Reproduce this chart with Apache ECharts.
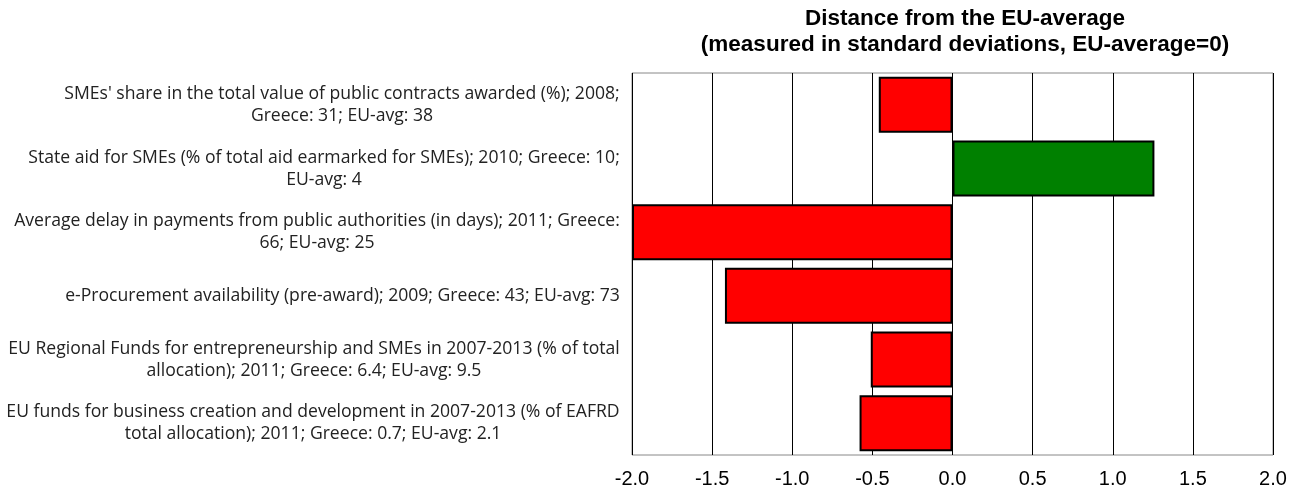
<!DOCTYPE html>
<html>
<head>
<meta charset="utf-8">
<script src="https://cdn.jsdelivr.net/npm/echarts@6/dist/echarts.min.js"></script>
<style>
  html, body { margin: 0; padding: 0; background: #fff; }
  #chart { width: 1299px; height: 492px; }
</style>
</head>
<body>
<div id="chart"></div>
<script>
const categories = [
  "SMEs' share in the total value of public contracts awarded (%); 2008;\nGreece: 31; EU-avg: 38",
  'State aid for SMEs (% of total aid earmarked for SMEs); 2010; Greece: 10;\nEU-avg: 4',
  'Average delay in payments from public authorities (in days); 2011; Greece:\n66; EU-avg: 25',
  'e-Procurement availability (pre-award); 2009; Greece: 43; EU-avg: 73',
  'EU Regional Funds for entrepreneurship and SMEs in 2007-2013 (% of total\nallocation); 2011; Greece: 6.4; EU-avg: 9.5',
  'EU funds for business creation and development in 2007-2013 (% of EAFRD\ntotal allocation); 2011; Greece: 0.7; EU-avg: 2.1'
]
const distances = [-0.46, 1.26, -2.0, -1.42, -0.51, -0.58]
const titleLines = ['Distance from the EU-average', '(measured in standard deviations, EU-average=0)']

const labelFamily = 'Open Sans'
const labelSize = 17.6
// width of the first line, so the second line can be centred under it
const ctx = document.createElement('canvas').getContext('2d')
ctx.font = labelSize + 'px "' + labelFamily + '"'
const firstLineWidth = s => Math.ceil(ctx.measureText(s.split('\n')[0]).width)
const richKey = s => 'w' + firstLineWidth(s)

const richStyles = {}
categories.forEach(c => {
  richStyles[richKey(c)] = {
    width: firstLineWidth(c),
    align: 'center',
    fontFamily: labelFamily,
    fontSize: labelSize,
    lineHeight: 22,
    color: '#222'
  }
})

const chart = echarts.init(document.getElementById('chart'))
chart.setOption({
  animation: false,
  title: {
    text: titleLines.join('\n'),
    left: 960,
    top: 1,
    textAlign: 'center',
    textStyle: { fontFamily: 'Liberation Sans', fontWeight: 'bold', fontSize: 22.5, lineHeight: 26, color: '#000' }
  },
  grid: { left: 632, right: 26, top: 73, bottom: 37, show: true, borderColor: '#888', borderWidth: 1 },
  xAxis: {
    type: 'value',
    min: -2,
    max: 2,
    interval: 0.5,
    axisLine: { show: false },
    axisTick: { show: false },
    splitLine: { lineStyle: { color: '#000', width: 1 } },
    axisLabel: {
      color: '#000',
      fontFamily: 'Liberation Sans',
      fontSize: 20,
      margin: 14,
      formatter: v => v.toFixed(1)
    }
  },
  yAxis: {
    type: 'category',
    inverse: true,
    data: categories,
    axisLine: { show: false },
    axisTick: { show: false },
    axisLabel: {
      margin: 12,
      interval: 0,
      formatter: v => v.split('\n').map(l => '{' + richKey(v) + '|' + l + '}').join('\n'),
      rich: richStyles
    }
  },
  series: [{
    type: 'bar',
    barCategoryGap: '12%',
    data: distances.map(v => ({
      value: v,
      itemStyle: { color: v < 0 ? '#ff0000' : '#008000', borderColor: '#000', borderWidth: 2 }
    }))
  }]
})
</script>
</body>
</html>
